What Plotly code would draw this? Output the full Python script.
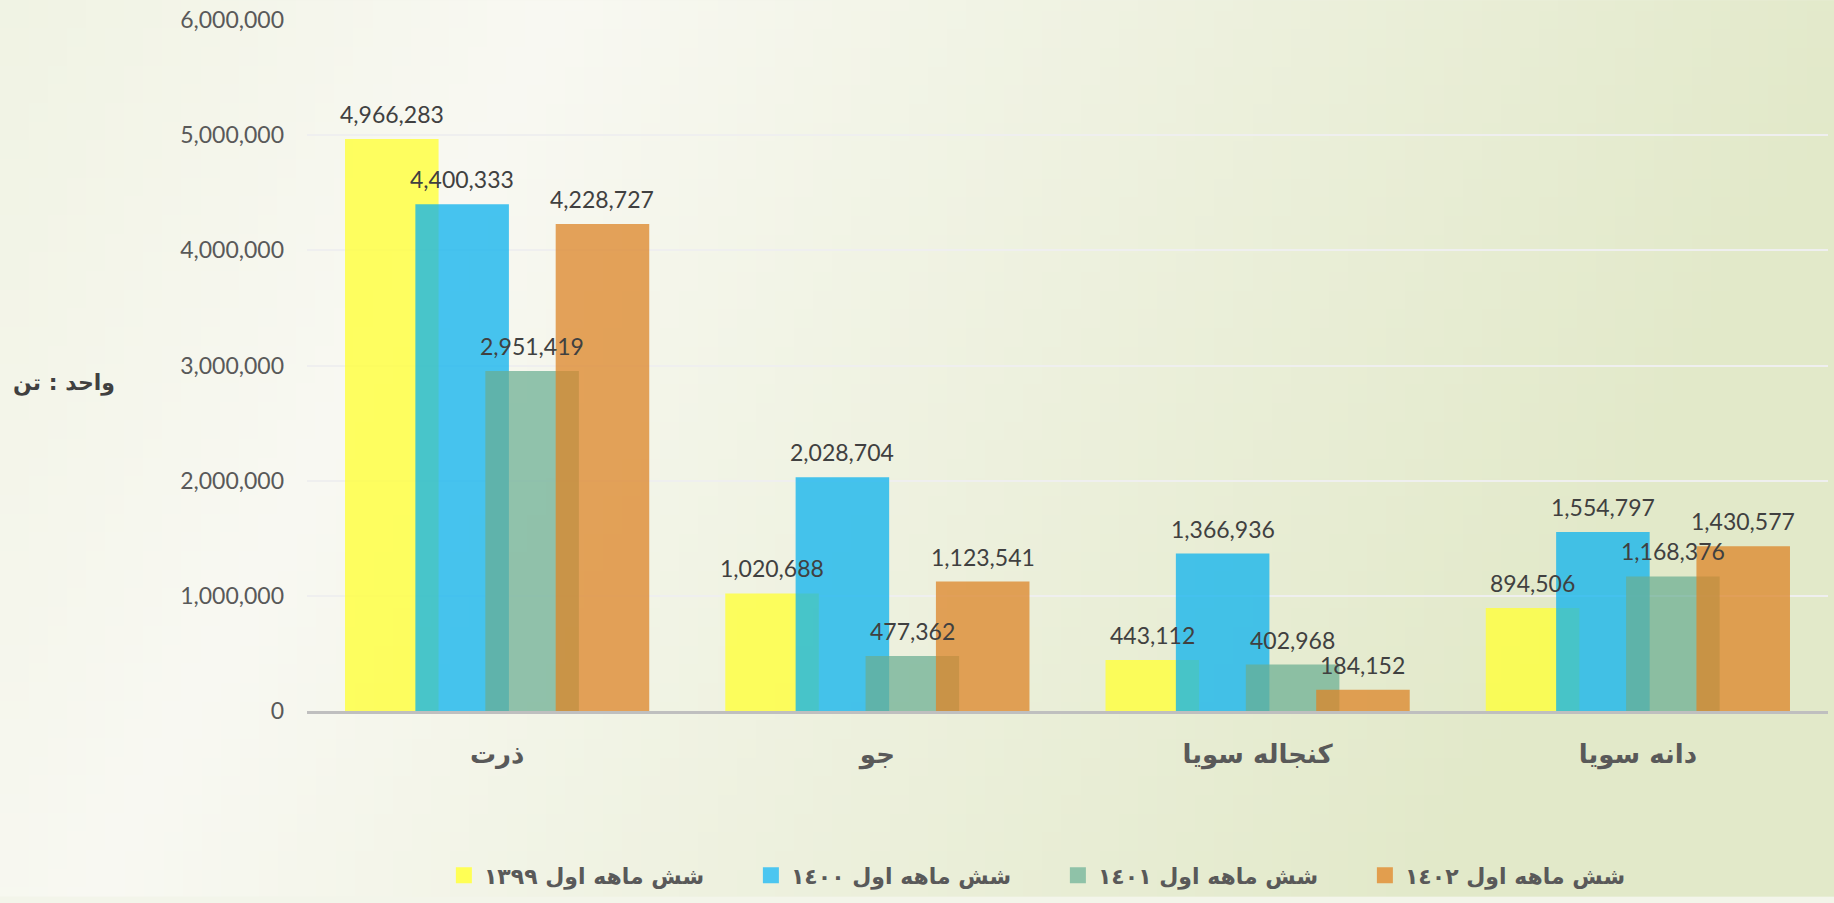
import base64
import struct
import zlib

import plotly.graph_objects as go

# ==========================================================
# Data
# ==========================================================

categories = ["ذرت", "جو", "کنجاله سویا", "دانه سویا"]

series_names = [
    "شش ماهه اول ١٣٩٩",
    "شش ماهه اول ١٤٠٠",
    "شش ماهه اول ١٤٠١",
    "شش ماهه اول ١٤٠٢",
]

values_1399 = [4966283, 1020688, 443112, 894506]
values_1400 = [4400333, 2028704, 1366936, 1554797]
values_1401 = [2951419, 477362, 402968, 1168376]
values_1402 = [4228727, 1123541, 184152, 1430577]

y_ticks = [0, 1000000, 2000000, 3000000, 4000000, 5000000, 6000000]

colors = [
    "rgba(255,255,59,0.80)",
    "rgba(11,178,238,0.75)",
    "rgba(105,173,146,0.72)",
    "rgba(220,132,39,0.75)",
]

legend_colors = ["#FFFF55", "#4CC6F0", "#8FC2A8", "#E29E4E"]


# ==========================================================
# Background gradient (tiny png built by hand)
# ==========================================================

def gradient_png(w=96, h=48):

    raw = b""

    for j in range(h):

        v = j / (h - 1)
        raw += b"\x00"

        for i in range(w):

            u = i / (w - 1)
            d = u + 0.25 * v
            if d < 0.3:
                t = (0.3 - d) / 0.3 * 0.35
            else:
                t = min((d - 0.3) / 0.75, 1.0)
            r = int(249 + (226 - 249) * t)
            g = int(249 + (233 - 249) * t)
            b = int(243 + (201 - 243) * t)
            raw += bytes([r, g, b])

    def chunk(tag, data):
        c = struct.pack(">I", len(data)) + tag + data
        return c + struct.pack(">I", zlib.crc32(tag + data) & 0xFFFFFFFF)

    png = b"\x89PNG\r\n\x1a\n"
    png += chunk(b"IHDR", struct.pack(">IIBBBBB", w, h, 8, 2, 0, 0, 0))
    png += chunk(b"IDAT", zlib.compress(raw, 9))
    png += chunk(b"IEND", b"")

    return "data:image/png;base64," + base64.b64encode(png).decode()


# ==========================================================
# Bars (overlapping, each series shifted inside the group)
# ==========================================================

all_values = [values_1399, values_1400, values_1401, values_1402]
offsets = [-0.40, -0.215, -0.031, 0.154]
bar_width = 0.246

fig = go.Figure()
labels = []

for name, vals, color, off in zip(series_names, all_values, colors, offsets):

    xs = [i + off + bar_width / 2 for i in range(len(categories))]

    fig.add_trace(

        go.Bar(

            x=xs,

            y=vals,

            name=name,

            width=bar_width,

            marker=dict(color=color, line=dict(width=0)),

            showlegend=False,

            hovertemplate="%{y:,}<extra>" + name + "</extra>"

        )

    )

    for x, v in zip(xs, vals):

        labels.append(dict(
            x=x,
            y=v,
            text=f"{v:,}",
            showarrow=False,
            yanchor="bottom",
            yshift=9,
            font=dict(family="Lato", size=23, color="#404040")
        ))

# legend entries with bigger square swatches
for name, color in zip(series_names, legend_colors):

    fig.add_trace(

        go.Scatter(

            x=[None],

            y=[None],

            mode="markers",

            name=name,

            marker=dict(symbol="square", size=16, color=color)

        )

    )


# ==========================================================
# Layout
# ==========================================================

fig.update_layout(

    width=1834,

    height=903,

    barmode="overlay",

    paper_bgcolor="#f3f5ea",

    plot_bgcolor="rgba(0,0,0,0)",

    margin=dict(l=307, r=6, t=20, b=187),

    showlegend=True,

    legend=dict(
        orientation="h",
        x=0.090,
        xanchor="left",
        y=-0.238,
        yanchor="middle",
        entrywidth=262,
        entrywidthmode="pixels",
        itemsizing="trace",
        font=dict(family="DejaVu Sans", size=22, color="#595959", weight="bold"),
        bgcolor="rgba(0,0,0,0)"
    ),

    xaxis=dict(
        range=[-0.5, 3.5],
        tickvals=list(range(len(categories))),
        ticktext=categories,
        showgrid=False,
        zeroline=False,
        showline=True,
        linecolor="#BFBFBF",
        linewidth=3,
        ticks="",
        ticklabelstandoff=18,
        tickfont=dict(family="DejaVu Sans", size=26, color="#595959", weight="bold")
    ),

    yaxis=dict(
        range=[0, 6000000],
        tickvals=y_ticks,
        tickformat=",",
        showgrid=True,
        gridcolor="#efefef",
        gridwidth=2,
        zeroline=False,
        showline=False,
        ticks="",
        ticklabelstandoff=22,
        tickfont=dict(family="Lato", size=23, color="#595959")
    ),

    images=[dict(
        source=gradient_png(),
        xref="paper",
        yref="paper",
        x=-307 / 1521,
        y=1 + 20 / 696,
        sizex=1834 / 1521,
        sizey=903 / 696,
        xanchor="left",
        yanchor="top",
        sizing="stretch",
        layer="below"
    )],

    annotations=labels + [dict(
        text="واحد : تن",
        xref="paper",
        yref="paper",
        x=-0.160,
        y=0.474,
        xanchor="center",
        showarrow=False,
        font=dict(family="DejaVu Sans", size=22, color="#404040", weight="bold")
    )]

)

fig.write_html(
    "out.html",
    config={"displayModeBar": False},
    post_script="document.body.style.margin='0';"
)
